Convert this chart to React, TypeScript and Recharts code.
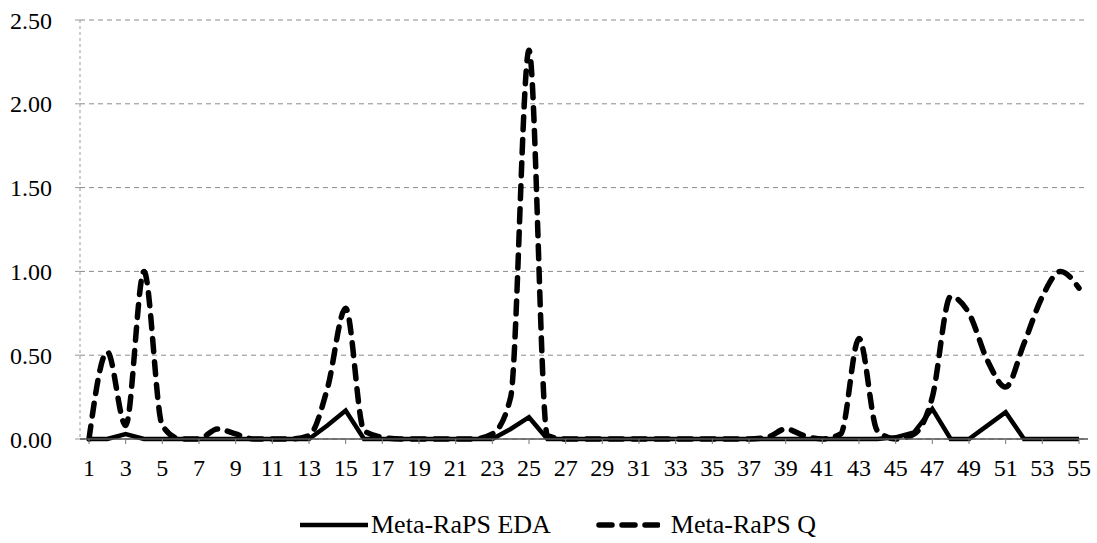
import React from "react";
import { LineChart, Line, XAxis, YAxis, CartesianGrid, Legend } from "recharts";

const categories = [
  "1","2","3","4","5","6","7","8","9","10",
  "11","12","13","14","15","16","17","18","19","20",
  "21","22","23","24","25","26","27","28","29","30",
  "31","32","33","34","35","36","37","38","39","40",
  "41","42","43","44","45","46","47","48","49","50",
  "51","52","53","54","55",
];

const edaValues = [
  0, 0, 0.03, 0, 0, 0, 0, 0, 0, 0,
  0, 0, 0, 0.08, 0.17, 0, 0, 0, 0, 0,
  0, 0, 0, 0.06, 0.13, 0, 0, 0, 0, 0,
  0, 0, 0, 0, 0, 0, 0, 0, 0, 0,
  0, 0, 0, 0, 0.01, 0.04, 0.18, 0, 0, 0.08,
  0.16, 0, 0, 0, 0,
];

const qValues = [
  0.0, 0.52, 0.08, 1.0, 0.08, 0, 0, 0.06, 0.03, 0,
  0, 0, 0.02, 0.3, 0.78, 0.05, 0.01, 0, 0, 0,
  0, 0, 0.03, 0.25, 2.32, 0.02, 0, 0, 0, 0,
  0, 0, 0, 0, 0, 0, 0, 0.01, 0.06, 0.02,
  0, 0.03, 0.6, 0.05, 0, 0.03, 0.25, 0.85, 0.75, 0.47,
  0.31, 0.57, 0.85, 1.0, 0.9,
];

const yTicks = [0, 0.5, 1.0, 1.5, 2.0, 2.5];

const seriesNames = { eda: "Meta-RaPS EDA", q: "Meta-RaPS Q" };

const data = categories.map((c, i) => ({ cat: c, eda: edaValues[i], q: qValues[i] }));

const FONT = "Liberation Serif";

const LegendContent = () => (
  <div
    style={{
      display: "flex",
      justifyContent: "center",
      alignItems: "center",
      height: 59,
      paddingTop: 23,
      boxSizing: "border-box",
      paddingLeft: 28,
      fontFamily: FONT,
      fontSize: 26,
      color: "#000",
    }}
  >
    <svg width={68} height={10} style={{ marginRight: 3 }}>
      <line x1={0} y1={5} x2={68} y2={5} stroke="#000" strokeWidth={4.5} />
    </svg>
    <span style={{ marginRight: 45, lineHeight: "26px", fontFamily: FONT }}>{seriesNames.eda}</span>
    <svg width={64} height={10} style={{ marginRight: 11 }}>
      <line x1={3} y1={5} x2={62} y2={5} stroke="#000" strokeWidth={5.5} strokeDasharray="13 10" strokeLinecap="round" />
    </svg>
    <span style={{ lineHeight: "26px", fontFamily: FONT }}>{seriesNames.q}</span>
  </div>
);

export default function App() {
  return (
    <div style={{ position: "absolute", left: 0, top: 0, width: 1097, height: 543, background: "#fff" }}>
      <LineChart width={1097} height={543} data={data} margin={{ top: 20, right: 9, left: 0, bottom: 0 }}>
        <CartesianGrid vertical={false} stroke="#8a8a8a" strokeDasharray="5 4" strokeWidth={1} />
        <XAxis
          dataKey="cat"
          interval={1}
          height={45}
          padding={{ left: 9, right: 9 }}
          axisLine={{ stroke: "#555", strokeWidth: 1.5 }}
          tickLine={{ stroke: "#777" }}
          tickSize={5}
          tickMargin={15}
          tick={{ fontFamily: FONT, fontSize: 24, fill: "#000" }}
        />
        <YAxis
          width={80}
          domain={[0, 2.5]}
          ticks={yTicks}
          interval={0}
          tickFormatter={(v: number) => v.toFixed(2)}
          axisLine={{ stroke: "#999", strokeDasharray: "3 3" }}
          tickLine={{ stroke: "#999" }}
          tickSize={5}
          tickMargin={23}
          tick={{ fontFamily: FONT, fontSize: 24, fill: "#000" }}
        />
        <Legend verticalAlign="bottom" height={59} content={<LegendContent />} />
        <Line dataKey="eda" name={seriesNames.eda} type="linear" stroke="#000" strokeWidth={4.5} dot={false} activeDot={false} isAnimationActive={false} />
        <Line dataKey="q" name={seriesNames.q} type="monotone" stroke="#000" strokeWidth={5.5} strokeDasharray="13 10" strokeLinecap="round" dot={false} activeDot={false} isAnimationActive={false} />
      </LineChart>
    </div>
  );
}
